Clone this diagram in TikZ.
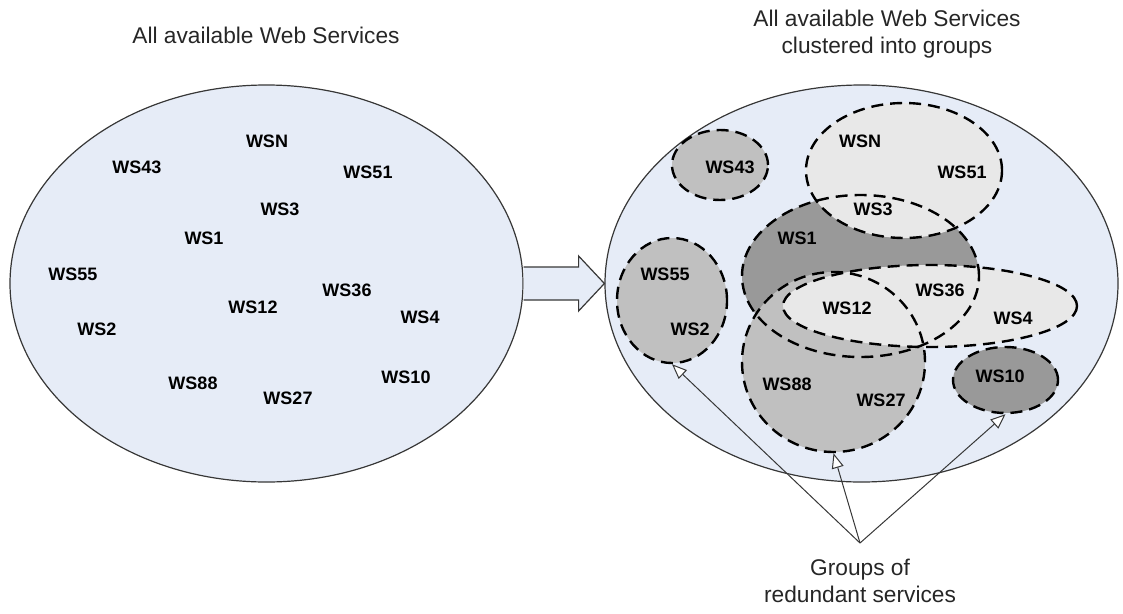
\documentclass[tikz,border=0pt]{standalone}
\usepackage{fontspec}
\setmainfont{Liberation Sans}
\usetikzlibrary{shapes.geometric,arrows.meta,calc}

\definecolor{poolblue}{RGB}{230,236,247}
\definecolor{grpdark}{RGB}{153,153,153}
\definecolor{grpmid}{RGB}{192,192,192}
\definecolor{grplight}{RGB}{232,232,232}
\definecolor{rim}{RGB}{55,55,55}

\tikzset{
  pool/.style={ellipse, draw=rim, line width=1.2pt, fill=poolblue, inner sep=0pt,
               minimum width=513pt, minimum height=397pt},
  grp/.style={ellipse, draw=black, line width=2.4pt, dash pattern=on 12pt off 7pt, inner sep=0pt},
  ws/.style={font=\fontsize{18pt}{20pt}\selectfont\bfseries, inner sep=0pt},
  caption/.style={font=\fontsize{22.7pt}{27pt}\selectfont, text=black!85, align=center, inner sep=0pt},
  blockarrow/.style={draw=rim, line width=1.2pt, fill=poolblue, line join=miter},
  pointer/.style={draw=rim, line width=1pt, -{Triangle[open, length=15pt, width=12pt, fill=white]}},
}

% name / centre x / centre y / x radius / y radius / fill, in painting order
\def\groups{g43/720/165/48/35/grpmid, g55/672/300.5/55/62.5/grpmid, g10/1005.5/380/52.5/33/grpdark,
  g1/860.5/276/118.5/81/grpdark, g88/833.5/362/91.5/90/grpmid,
  gN/904/170.5/98/67.5/grplight, g12/930/306/147/41/grplight}

\begin{document}
\begin{tikzpicture}[x=1pt, y=-1pt]
\useasboundingbox (0,0) rectangle (1123,613);

% the two pools of services
\node[pool] (pool) at (266.5,283.5) {};
\node[pool] (clusters) at (861.5,283.5) {};

% block arrow between the pools
\filldraw[blockarrow] ($(pool.east)+(0,-16.5)$) -- ++(55,0) -- ++(0,-11) -- (clusters.west)
  -- ($(pool.east)+(55,27.5)$) -- ++(0,-11) -- ($(pool.east)+(0,16.5)$);

% group fills first, then all dashed outlines on top
\foreach \nm/\x/\y/\rx/\ry/\col in \groups {
  \fill[\col] (\x,\y) ellipse [x radius=\rx pt, y radius=\ry pt];
}
\foreach \nm/\x/\y/\rx/\ry/\col in \groups {
  \node[grp, minimum width=2*\rx pt, minimum height=2*\ry pt] (\nm) at (\x,\y) {};
}

% titles (base = baseline of the last line)
\node[caption, anchor=base] (t1) at (266,43) {All available Web Services};
\node[caption, anchor=base] (t2) at (887,53) {All available Web Services\\clustered into groups};

% services, unsorted
\node[ws] (aN)  at (267,141) {WSN};
\node[ws] (a43) at (137,167) {WS43};
\node[ws] (a51) at (368,172) {WS51};
\node[ws] (a3)  at (280,209) {WS3};
\node[ws] (a1)  at (204,238) {WS1};
\node[ws] (a55) at (73,274)  {WS55};
\node[ws] (a36) at (347,290) {WS36};
\node[ws] (a12) at (253,307) {WS12};
\node[ws] (a4)  at (420,317) {WS4};
\node[ws] (a2)  at (97,329)  {WS2};
\node[ws] (a10) at (406,377) {WS10};
\node[ws] (a88) at (193,383) {WS88};
\node[ws] (a27) at (288,398) {WS27};

% services, clustered
\node[ws] (b43) at (730,167) {WS43};
\node[ws] (bN)  at (860,141) {WSN};
\node[ws] (b51) at (962,172) {WS51};
\node[ws] (b3)  at (873,209) {WS3};
\node[ws] (b1)  at (797,238) {WS1};
\node[ws] (b55) at (665,274) {WS55};
\node[ws] (b2)  at (690,329) {WS2};
\node[ws] (b12) at (847,308) {WS12};
\node[ws] (b36) at (940,290) {WS36};
\node[ws] (b4)  at (1013,318) {WS4};
\node[ws] (b88) at (787,384) {WS88};
\node[ws] (b27) at (881,400) {WS27};
\node[ws] (b10) at (1000,376) {WS10};

% callout for the groups
\node[caption, anchor=base] (t3) at (860,602) {Groups of\\redundant services};
\coordinate (hub) at (860,543);
\draw[pointer] (hub) -- (g55.south);
\draw[pointer] (hub) -- (g88.south);
\draw[pointer] (hub) -- (g10.south);
\end{tikzpicture}
\end{document}
